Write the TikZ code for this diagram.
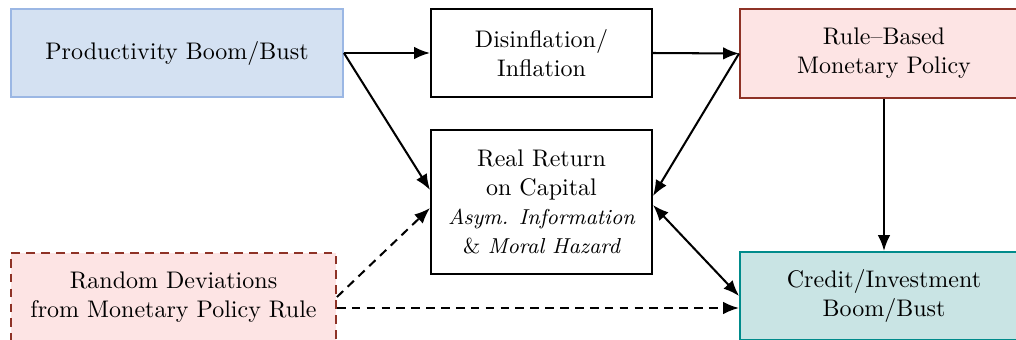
\documentclass[tikz,border=0pt]{standalone}
\usetikzlibrary{arrows.meta,calc}
\definecolor{blueF}{RGB}{212,225,242}
\definecolor{blueD}{RGB}{155,183,228}
\definecolor{pinkF}{RGB}{253,228,228}
\definecolor{redD}{RGB}{142,50,38}
\definecolor{tealF}{RGB}{201,228,228}
\definecolor{tealD}{RGB}{0,139,139}
\begin{document}
\begin{tikzpicture}[x=0.41667pt,y=-0.41667pt,
  box/.style={draw=black,line width=0.8pt,rectangle,align=center,inner sep=0pt,anchor=center},
  arr/.style={line width=0.85pt,-{Latex[length=6.6pt,width=5.2pt]}},
  darr/.style={line width=0.85pt,{Latex[length=6.6pt,width=5.2pt]}-{Latex[length=6.6pt,width=5.2pt]}},
  dsh/.style={dash pattern=on 3.6pt off 2.6pt}]
\clip (0,0) rectangle (1016,340);
\node[box,draw=blueD,fill=blueF,minimum width=138.3pt,minimum height=36.7pt] (prod) at (177,53) {Productivity Boom/Bust};
\node[box,minimum width=92.1pt,minimum height=36.7pt] (dis) at (541.5,53) {Disinflation/\\Inflation};
\node[box,draw=redD,fill=pinkF,minimum width=120pt,minimum height=37.1pt] (rule) at (884,53.5) {Rule--Based\\Monetary Policy};
\node[box,minimum width=92.1pt,minimum height=60pt] (real) at (541.5,202) {Real Return\\on Capital\\{\small\itshape Asym. Information}\\{\small\& \itshape Moral Hazard}};
\node[box,dsh,draw=redD,fill=pinkF,minimum width=135.4pt,minimum height=36.7pt] (rand) at (173.5,297) {Random Deviations\\from Monetary Policy Rule};
\node[box,draw=tealD,fill=tealF,minimum width=120pt,minimum height=36.7pt] (credit) at (884,296) {Credit/Investment\\Boom/Bust};
\coordinate (realA) at ($(real.west)+(0,-12)$);
\coordinate (realB) at ($(real.west)+(0,6)$);
\coordinate (realC) at ($(real.east)+(0,-6)$);
\coordinate (realD) at ($(real.east)+(0,3)$);
\coordinate (randB) at ($(rand.east)+(0,11)$);
\coordinate (credB) at ($(credit.west)+(0,12)$);
\draw[arr] (prod.east) -- (dis.west);
\draw[arr] (prod.east) -- (realA);
\draw[arr] (dis.east) -- (rule.west);
\draw[arr] (rule.west) -- (realC);
\draw[darr] (realD) -- (credit.west);
\draw[arr] (rule.south) -- (credit.north);
\draw[arr,dsh] (rand.east) -- (realB);
\draw[arr,dsh] (randB) -- (credB);
\end{tikzpicture}
\end{document}
